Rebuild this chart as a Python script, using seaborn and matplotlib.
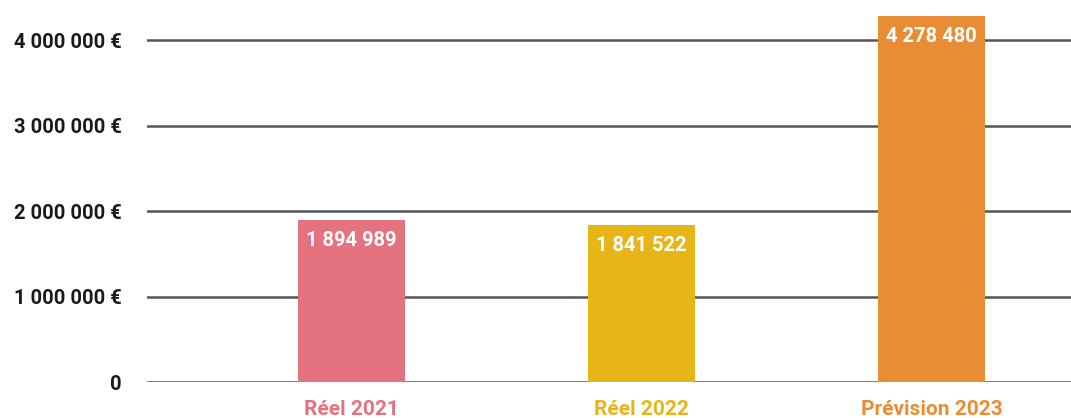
import matplotlib
matplotlib.use("Agg")
import matplotlib.pyplot as plt
import seaborn as sns
import pandas as pd

# ========== Data ==========
categories = ["Réel 2021", "Réel 2022", "Prévision 2023"]
values = [1894989, 1841522, 4278480]
colors = ["#E5737F", "#E8B516", "#E88D33"]
yticks = [0, 1000000, 2000000, 3000000, 4000000]


def fmt(v):
    return f"{v:,}".replace(",", " ")


df = pd.DataFrame({"cat": categories, "val": values})

sns.set_theme(style="white")
plt.rcParams["font.family"] = ["Roboto", "DejaVu Sans"]

fig = plt.figure(figsize=(10.71, 4.18), dpi=100)
ax = fig.add_axes([147 / 1071, 36 / 418, 924 / 1071, 382 / 418])

sns.barplot(data=df, x="cat", y="val", hue="cat", palette=colors,
            width=0.37, legend=False, ax=ax, zorder=3, saturation=1,
            linewidth=0, edgecolor="none")

ax.set_xlim(-0.705, 2.48)
ax.set_ylim(0, 4470000)
ax.set_yticks(yticks)
ax.set_yticklabels([fmt(t) + " €" if t else "0" for t in yticks],
                   fontsize=14.5, fontweight="bold", color="#1a1a1a")
ax.tick_params(axis="y", length=0, pad=18)
ax.tick_params(axis="x", length=0, pad=13)
for lbl, c in zip(ax.get_xticklabels(), colors):
    lbl.set_color(c)
    lbl.set_fontsize(15)
    lbl.set_fontweight("bold")

for t in yticks:
    ax.axhline(t, color="#555555", lw=1.8, zorder=1)

for i, v in enumerate(values):
    ax.text(i, v - 130000, fmt(v), ha="center", va="top", color="white",
            fontsize=14.5, fontweight="bold", zorder=4)

sns.despine(ax=ax, left=True, bottom=True)
ax.set_xlabel("")
ax.set_ylabel("")

fig.savefig("out.png", dpi=100)
